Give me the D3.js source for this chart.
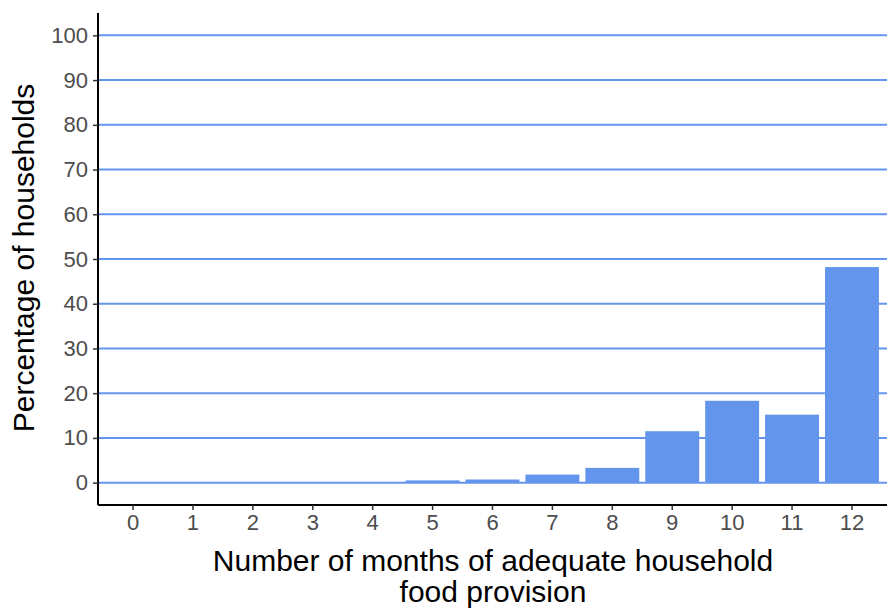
<!DOCTYPE html>
<html>
<meta charset="utf-8">
<title>Food provision</title>
<style>
  body { margin: 0; background: #fff; font-family: "Liberation Sans", Arial, sans-serif; }
  .tick text { fill: #4d4d4d; font-size: 22px; font-family: "Liberation Sans", Arial, sans-serif; }
  .tick line { stroke: #333; stroke-width: 1.5; }
</style>
<script src="https://d3js.org/d3.v7.min.js"></script>
<body>
<script>
// data
var months = ['0', '1', '2', '3', '4', '5', '6', '7', '8', '9', '10', '11', '12'];
var percent = [0, 0, 0, 0, 0, 0.5, 0.7, 1.8, 3.3, 11.5, 18.3, 15.2, 48.2];
var yTicks = [0, 10, 20, 30, 40, 50, 60, 70, 80, 90, 100];

var W = 887, H = 608;
var pLeft = 98, pTop = 13, pRight = 887, pBottom = 505;
var blue = '#6495ed';

var svg = d3.select('body').append('svg')
    .attr('width', W).attr('height', H);

var x = d3.scaleBand()
    .domain(months)
    .range([pLeft, pRight])
    .paddingInner(0.1)
    .paddingOuter(0.135);

var y = d3.scaleLinear().domain([-5, 105]).range([pBottom, pTop]);

// grid lines
svg.append('g').selectAll('line')
    .data(yTicks).enter().append('line')
    .attr('x1', pLeft).attr('x2', pRight)
    .attr('y1', function(d) { return y(d); })
    .attr('y2', function(d) { return y(d); })
    .attr('stroke', blue).attr('stroke-width', 2);

// bars
svg.append('g').selectAll('rect')
    .data(percent).enter().append('rect')
    .attr('x', function(d, i) { return x(months[i]); })
    .attr('width', x.bandwidth())
    .attr('y', function(d) { return y(d); })
    .attr('height', function(d) { return y(0) - y(d); })
    .attr('fill', blue);

// axes
var xAxis = svg.append('g')
    .attr('transform', 'translate(0,' + pBottom + ')')
    .call(d3.axisBottom(x).tickSize(5).tickPadding(4));
xAxis.select('.domain').attr('stroke', '#000').attr('stroke-width', 2).attr('d', 'M' + pLeft + ',0H' + pRight);

var yAxis = svg.append('g')
    .attr('transform', 'translate(' + pLeft + ',0)')
    .call(d3.axisLeft(y).tickValues(yTicks).tickSize(5).tickPadding(5));
yAxis.select('.domain').attr('stroke', '#000').attr('stroke-width', 2).attr('d', 'M0,' + pTop + 'V' + pBottom);

// titles
var xt = svg.append('text')
    .attr('text-anchor', 'middle')
    .style('font-size', '30px')
    .attr('fill', '#000');
xt.append('tspan').attr('x', 493).attr('y', 571).text('Number of months of adequate household');
xt.append('tspan').attr('x', 493).attr('y', 602).text('food provision');

svg.append('text')
    .attr('transform', 'translate(34,' + 258 + ') rotate(-90)')
    .attr('text-anchor', 'middle')
    .style('font-size', '30px')
    .attr('fill', '#000')
    .text('Percentage of households');
</script>
</body>
</html>
